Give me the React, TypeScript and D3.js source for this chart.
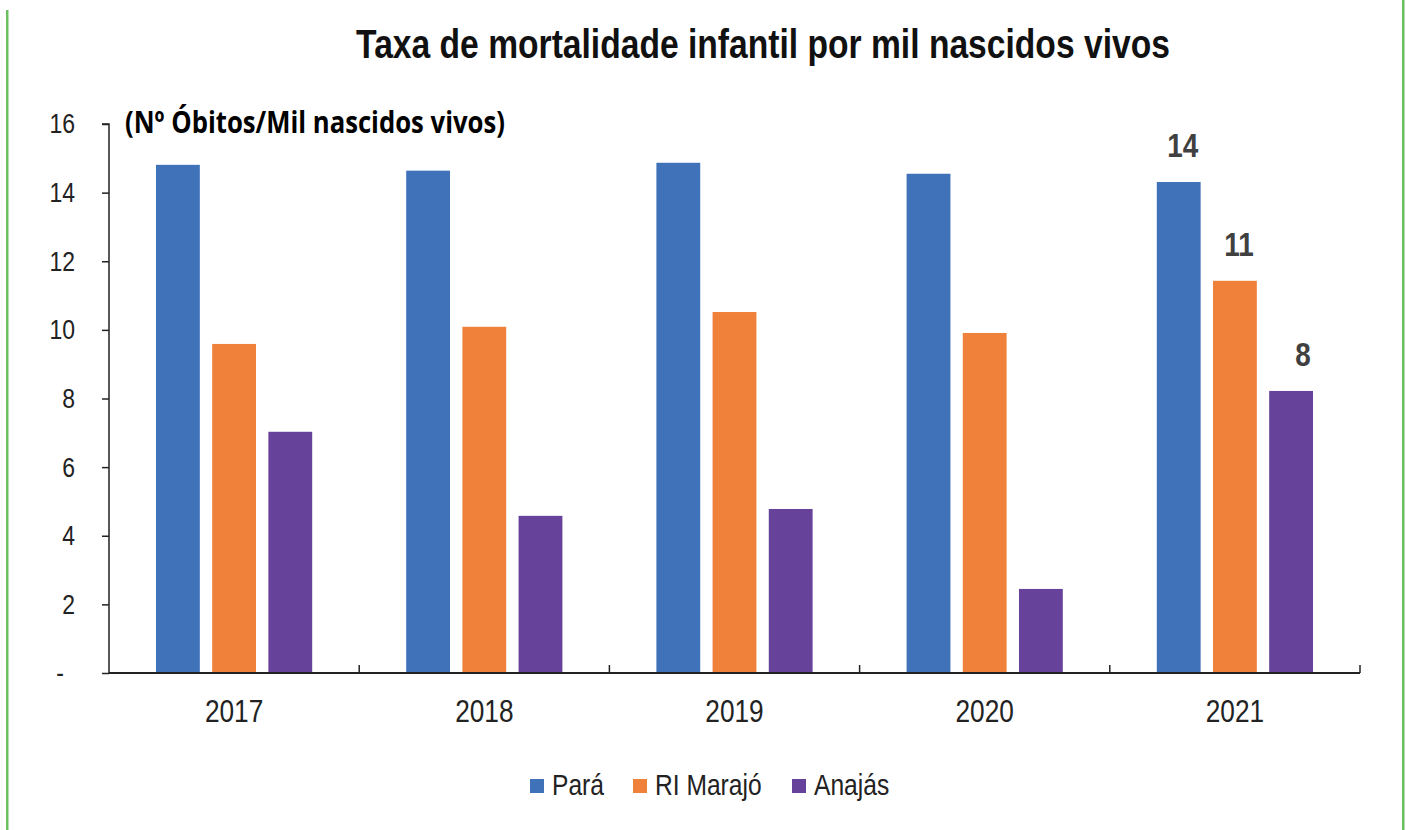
import React, { useEffect, useRef } from 'react';
import * as d3 from 'd3';

const years = ['2017', '2018', '2019', '2020', '2021'];
const seriesNames = ['Pará', 'RI Marajó', 'Anajás'];
const para = [14.81, 14.64, 14.87, 14.55, 14.31];
const riMarajo = [9.59, 10.09, 10.52, 9.91, 11.43];
const anajas = [7.03, 4.58, 4.78, 2.45, 8.22];
const colors = ['#3f72b8', '#f0813a', '#66429a'];
const yTicks = [0, 2, 4, 6, 8, 10, 12, 14, 16];
const labelledYear = '2021';

// no narrow font installed, so squeeze Liberation Sans horizontally
const FONT = "'Liberation Sans', Arial, sans-serif";
const NARROW = 0.82;
const narrow = (x: number, y: number) => `translate(${x},${y}) scale(${NARROW},1)`;

export default function App() {
  const svgRef = useRef<SVGSVGElement>(null);

  useEffect(() => {
    document.body.style.margin = '0';
    if (!svgRef.current) return;
    const svg = d3.select(svgRef.current);
    svg.selectAll('*').remove();

    const width = 1406;
    const height = 830;
    const margin = { left: 109, right: 46, top: 124, bottom: 157 };
    const innerW = width - margin.left - margin.right;
    const innerH = height - margin.top - margin.bottom;

    const values = [para, riMarajo, anajas];
    const rows = years.map((y, i) => ({ year: y, vals: values.map(v => v[i]) }));

    const x = d3.scaleBand().domain(years).range([0, innerW]);
    const xs = d3.scaleBand().domain(seriesNames).range([47, x.bandwidth() - 47]).paddingInner(0.22);
    const y = d3.scaleLinear().domain([0, 16]).range([innerH, 0]);

    // green frame lines
    svg.append('rect').attr('x', 6).attr('y', 10).attr('width', 2.5).attr('height', height - 10).attr('fill', '#6abf5e');
    svg.append('rect').attr('x', 1402).attr('y', 0).attr('width', 2.5).attr('height', height).attr('fill', '#6abf5e');

    svg.append('text')
      .attr('transform', narrow(763, 58))
      .attr('text-anchor', 'middle')
      .attr('font-family', FONT)
      .attr('font-weight', 'bold')
      .attr('font-size', 41)
      .attr('fill', '#111')
      .text('Taxa de mortalidade infantil por mil nascidos vivos');

    const g = svg.append('g').attr('transform', `translate(${margin.left},${margin.top})`);

    // bars
    const groups = g.selectAll('g.year').data(rows).join('g')
      .attr('class', 'year')
      .attr('transform', d => `translate(${x(d.year)},0)`);

    groups.selectAll('rect')
      .data(d => d.vals.map((v, k) => ({ name: seriesNames[k], v, k })))
      .join('rect')
      .attr('x', d => xs(d.name)!)
      .attr('width', xs.bandwidth())
      .attr('y', d => y(d.v))
      .attr('height', d => innerH - y(d.v))
      .attr('fill', d => colors[d.k]);

    // data labels (last year only)
    const lastRow = rows.find(r => r.year === labelledYear)!;
    g.append('g').selectAll('text')
      .data(lastRow.vals.map((v, k) => ({ name: seriesNames[k], v, k })))
      .join('text')
      .attr('transform', d => narrow(
        x(labelledYear)! + xs(d.name)! + xs.bandwidth() / 2 + (d.k === 2 ? 12 : 4),
        y(d.v) - 25))
      .attr('text-anchor', 'middle')
      .attr('font-family', FONT)
      .attr('font-weight', 'bold')
      .attr('font-size', 34)
      .attr('fill', '#404040')
      .text(d => d3.format('.0f')(d.v));

    // y axis
    const yAxis = g.append('g')
      .call(d3.axisLeft(y).tickValues(yTicks).tickSize(7).tickFormat(d => (+d === 0 ? '-' : String(d))));
    yAxis.select('.domain').attr('stroke', '#222').attr('stroke-width', 1.5).attr('d', `M-7,0H0V${innerH}`);
    yAxis.selectAll('.tick line').attr('stroke', '#222').attr('stroke-width', 1.5);
    yAxis.selectAll('.tick text')
      .attr('x', 0)
      .attr('transform', d => narrow(+d === 0 ? -45 : -34, 0))
      .attr('font-family', FONT)
      .attr('font-size', 28)
      .attr('fill', '#222');

    // x axis
    const xAxis = g.append('g').attr('transform', `translate(0,${innerH})`);
    xAxis.append('line').attr('x1', 0).attr('x2', innerW).attr('stroke', '#222').attr('stroke-width', 1.8);
    xAxis.selectAll('line.tk')
      .data(years.slice(1).concat(['end']))
      .join('line')
      .attr('class', 'tk')
      .attr('x1', d => (d === 'end' ? innerW : x(d)!))
      .attr('x2', d => (d === 'end' ? innerW : x(d)!))
      .attr('y1', 0).attr('y2', -8)
      .attr('stroke', '#222').attr('stroke-width', 1.5);
    xAxis.selectAll('text')
      .data(years)
      .join('text')
      .attr('transform', d => narrow(x(d)! + x.bandwidth() / 2, 49))
      .attr('text-anchor', 'middle')
      .attr('font-family', FONT)
      .attr('font-size', 32)
      .attr('fill', '#222')
      .text(d => d);

    // unit label
    svg.append('text')
      .attr('x', 125).attr('y', 133)
      .attr('font-family', "'Open Sans', 'Noto Sans', sans-serif")
      .attr('font-weight', 'bold')
      .attr('font-size', 31)
      .attr('textLength', 380)
      .attr('lengthAdjust', 'spacingAndGlyphs')
      .attr('fill', '#000')
      .text('(Nº Óbitos/Mil nascidos vivos)');

    // legend
    const legendX = [530, 633, 792];
    const legend = svg.append('g').selectAll('g').data(seriesNames).join('g')
      .attr('transform', (d, i) => `translate(${legendX[i]},779)`);
    legend.append('rect').attr('width', 14).attr('height', 14).attr('fill', (d, i) => colors[i]);
    legend.append('text')
      .attr('transform', narrow(22, 16))
      .attr('font-family', FONT)
      .attr('font-size', 30)
      .attr('fill', '#222')
      .text(d => d);
  }, []);

  return <svg ref={svgRef} width={1406} height={830} style={{ display: 'block', background: '#fff' }} />;
}
